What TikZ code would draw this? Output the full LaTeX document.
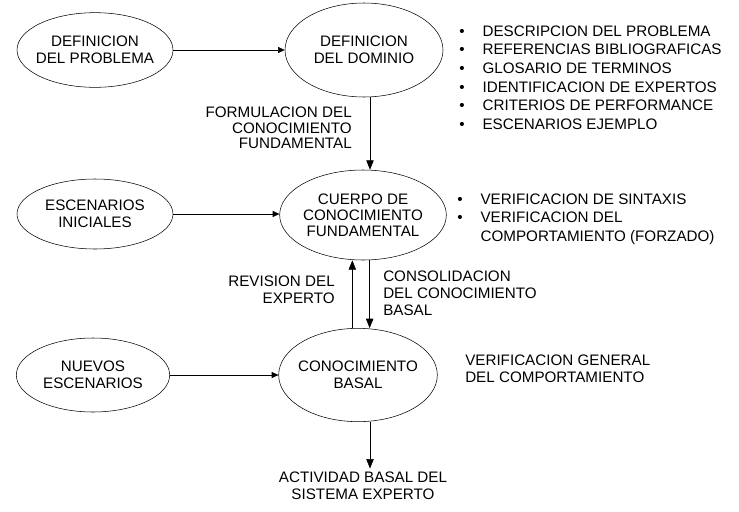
\documentclass[tikz,border=0pt]{standalone}
\usepackage{fontspec}
\setmainfont{Liberation Sans}
\usepackage{tikz}
\usetikzlibrary{shapes, arrows.meta, positioning}

\newcommand{\bul}{\makebox[17.5pt][l]{\textbullet}}
\newcommand{\nobul}{\makebox[17.5pt][l]{}}

\begin{document}
\begin{tikzpicture}[x=0.75pt, y=-0.75pt,
    every node/.style={font=\fontsize{11.4}{12.9}\selectfont},
    bubble/.style={draw, ellipse, inner ysep=0pt, inner xsep=-6pt, align=center},
    note/.style={inner sep=0pt},
    flow/.style={-{Triangle[length=7pt,width=5.5pt]}},
    side/.style={-{Triangle[length=5pt,width=4.5pt]}}]
  \useasboundingbox (0,0) rectangle (739,511);

  \node [bubble, minimum width=117pt, minimum height=56pt] (problema) at (95,50) {DEFINICION\\DEL PROBLEMA};
  \node [bubble, minimum width=118.5pt, minimum height=70.5pt] (dominio) at (364,50) {DEFINICION\\DEL DOMINIO};
  \node [bubble, minimum width=117pt, minimum height=52.5pt] (escenarios) at (95,214) {ESCENARIOS\\INICIALES};
  \node [bubble, minimum width=125pt, minimum height=67.5pt, font=\fontsize{11.4}{12}\selectfont] (cuerpo) at (363,215) {CUERPO DE\\CONOCIMIENTO\\FUNDAMENTAL};
  \node [bubble, minimum width=115pt, minimum height=55.5pt] (nuevos) at (93,375) {NUEVOS\\ESCENARIOS};
  \node [bubble, minimum width=119pt, minimum height=70pt] (basal) at (358,375) {CONOCIMIENTO\\BASAL};
  \node [note, inner sep=2.5pt, anchor=north, align=center] (actividad) at (363,468.5) {ACTIVIDAD BASAL DEL\\SISTEMA EXPERTO};

  \node [note, anchor=east, align=right, font=\fontsize{11.4}{11.8}\selectfont] (formulacion) at (352,128) {FORMULACION DEL\\CONOCIMIENTO\\FUNDAMENTAL};
  \node [note, anchor=east, align=right] (revision) at (335,289.5) {REVISION DEL\\EXPERTO};
  \node [note, anchor=west, align=left] (consolidacion) at (383,293) {CONSOLIDACION\\DEL CONOCIMIENTO\\BASAL};
  \node [note, anchor=west, align=left, font=\fontsize{11.4}{13.9}\selectfont] (descripcion) at (459,77.5) {\bul DESCRIPCION DEL PROBLEMA\\\bul REFERENCIAS BIBLIOGRAFICAS\\\bul GLOSARIO DE TERMINOS\\\bul IDENTIFICACION DE EXPERTOS\\\bul CRITERIOS DE PERFORMANCE\\\bul ESCENARIOS EJEMPLO};
  \node [note, anchor=west, align=left, font=\fontsize{11.4}{13.9}\selectfont] (verificacion) at (457,219) {\bul VERIFICACION DE SINTAXIS\\\bul VERIFICACION DEL\\\nobul COMPORTAMIENTO (FORZADO)};
  \node [note, anchor=west, align=left] (general) at (465,368.5) {VERIFICACION GENERAL\\DEL COMPORTAMIENTO};

  \draw [side] (problema) -- (dominio);
  \draw [side] (escenarios.east) -- (escenarios.east -| cuerpo.west);
  \draw [side] (nuevos.east) -- (nuevos.east -| basal.west);
  \draw [flow] ([xshift=4.5pt]dominio.south) -- ([xshift=4.5pt]dominio.south |- cuerpo.north);
  \draw [flow] ([xshift=5pt]cuerpo.south) -- ([xshift=5pt]cuerpo.south |- basal.north);
  \draw [flow] ([xshift=-8pt]cuerpo.south |- basal.north) -- ([xshift=-8pt]cuerpo.south);
  \draw [flow] ([xshift=9pt]basal.south) -- ([xshift=9pt]basal.south |- actividad.north);
\end{tikzpicture}
\end{document}
